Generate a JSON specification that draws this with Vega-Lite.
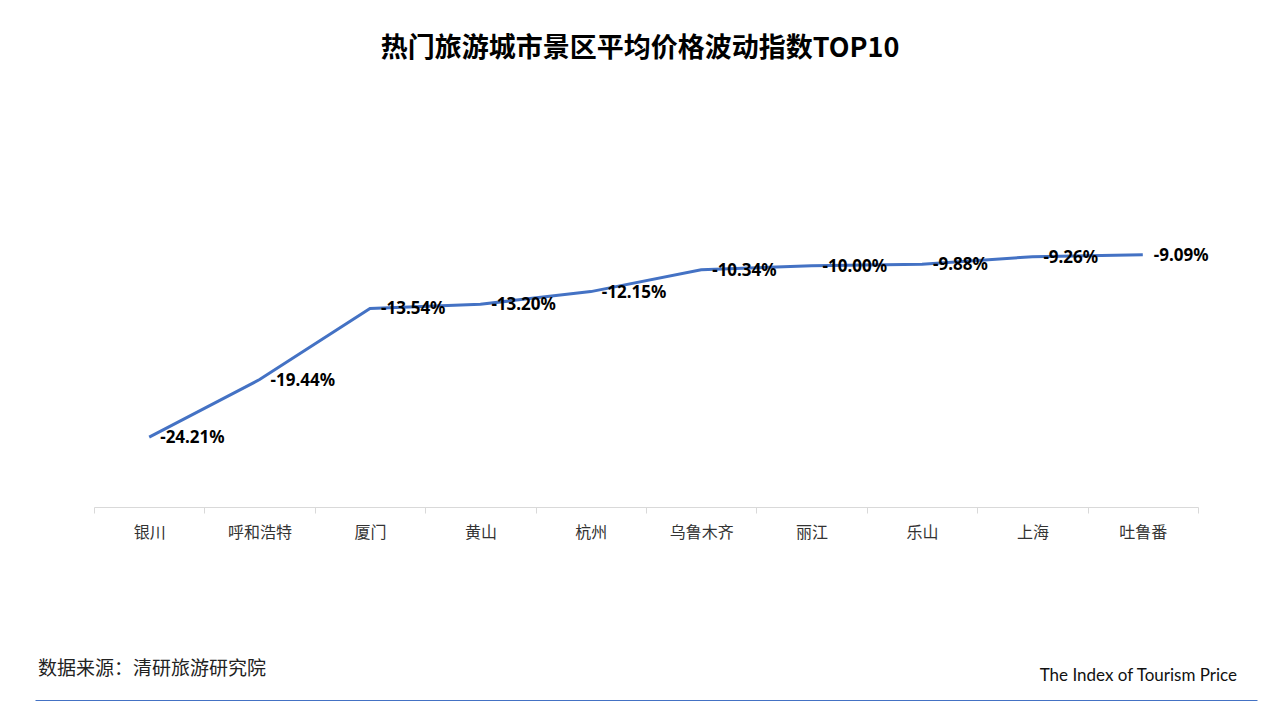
{
  "$schema": "https://vega.github.io/schema/vega-lite/v6.json",
  "background": "white",
  "padding": {"left": 35, "right": 20, "top": 35, "bottom": 10},
  "bounds": "flush",
  "center": true,
  "spacing": 131,
  "title": {
    "text": "热门旅游城市景区平均价格波动指数TOP10",
    "font": "Noto Sans CJK SC",
    "fontSize": 27,
    "fontWeight": "bold",
    "color": "#000000",
    "anchor": "middle",
    "dx": -6,
    "offset": 82
  },
  "config": {"view": {"stroke": null}},
  "vconcat": [
    {
      "width": 1104,
      "height": 362,
      "data": {
        "values": [
          {"city": "银川", "value": -24.21, "label": "-24.21%"},
          {"city": "呼和浩特", "value": -19.44, "label": "-19.44%"},
          {"city": "厦门", "value": -13.54, "label": "-13.54%"},
          {"city": "黄山", "value": -13.20, "label": "-13.20%"},
          {"city": "杭州", "value": -12.15, "label": "-12.15%"},
          {"city": "乌鲁木齐", "value": -10.34, "label": "-10.34%"},
          {"city": "丽江", "value": -10.00, "label": "-10.00%"},
          {"city": "乐山", "value": -9.88, "label": "-9.88%"},
          {"city": "上海", "value": -9.26, "label": "-9.26%"},
          {"city": "吐鲁番", "value": -9.09, "label": "-9.09%"}
        ]
      },
      "encoding": {
        "x": {
          "field": "city",
          "type": "ordinal",
          "sort": null,
          "bandPosition": 0.5,
          "scale": {"type": "band", "paddingInner": 0, "paddingOuter": 0},
          "axis": {
            "title": null,
            "labelAngle": 0,
            "labelFont": "Noto Sans CJK SC",
            "labelFontSize": 16,
            "labelColor": "#333333",
            "labelPadding": 11,
            "domainColor": "#d9d9d9",
            "tickColor": "#d9d9d9",
            "tickBand": "extent",
            "tickSize": 6,
            "grid": false
          }
        },
        "y": {
          "field": "value",
          "type": "quantitative",
          "scale": {"domain": [-30, 0], "nice": false, "zero": false},
          "axis": null
        }
      },
      "layer": [
        {"mark": {"type": "line", "color": "#4472C4", "strokeWidth": 3, "interpolate": "linear"}},
        {
          "mark": {"type": "text", "align": "left", "baseline": "middle", "dx": 11, "dy": 1, "font": "Noto Sans", "fontSize": 17, "fontWeight": "bold", "color": "#000000"},
          "encoding": {"text": {"field": "label"}}
        }
      ]
    },
    {
      "width": 1222,
      "height": 62,
      "layer": [
        {
          "data": {"values": [{"note": "数据来源：清研旅游研究院"}]},
          "mark": {"type": "text", "align": "left", "baseline": "middle", "dx": 3, "font": "Noto Sans CJK SC", "fontSize": 19, "color": "#222222"},
          "encoding": {
            "x": {
              "field": "note", "type": "nominal", "sort": ["数据来源：清研旅游研究院", "The Index of Tourism Price"],
              "bandPosition": 0,
              "scale": {"type": "band", "paddingInner": 0, "paddingOuter": 0},
              "axis": {"title": null, "labels": false, "ticks": false, "grid": false, "domainColor": "#4472C4", "domainWidth": 1, "domainOpacity": 1}
            },
            "text": {"field": "note"}
          }
        },
        {
          "data": {"values": [{"note": "The Index of Tourism Price"}]},
          "mark": {"type": "text", "align": "right", "baseline": "middle", "dx": -20, "dy": 7, "font": "Lato", "fontSize": 17, "color": "#111111"},
          "encoding": {
            "x": {
              "field": "note", "type": "nominal", "sort": ["数据来源：清研旅游研究院", "The Index of Tourism Price"],
              "bandPosition": 1,
              "scale": {"type": "band", "paddingInner": 0, "paddingOuter": 0},
              "axis": {"title": null, "labels": false, "ticks": false, "grid": false, "domainColor": "#4472C4", "domainWidth": 1, "domainOpacity": 1}
            },
            "text": {"field": "note"}
          }
        }
      ]
    }
  ]
}
